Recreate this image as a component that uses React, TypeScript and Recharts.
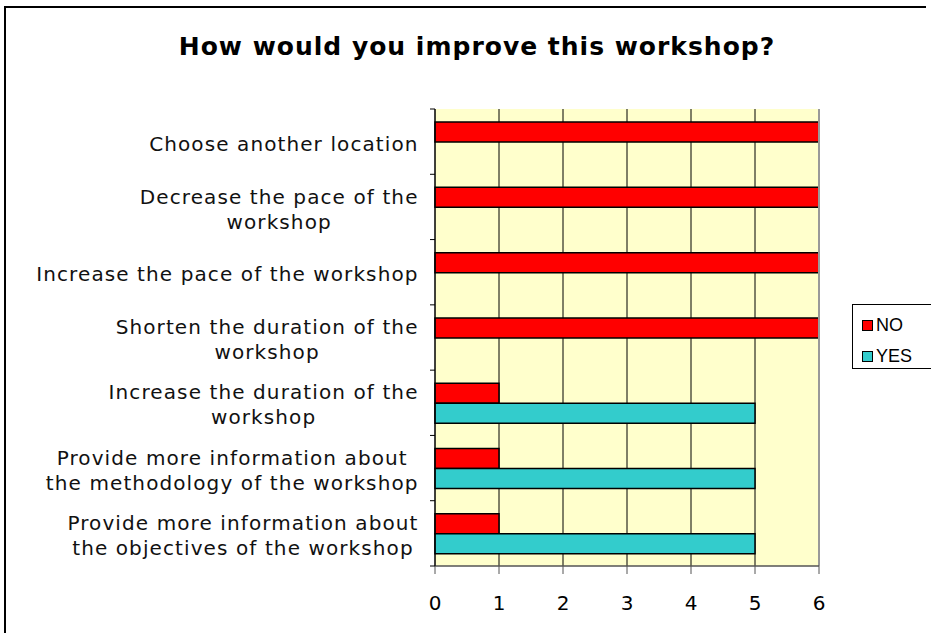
import React from 'react';
import { BarChart, Bar, XAxis, YAxis, CartesianGrid, ReferenceLine } from 'recharts';

const categories = [
  'Choose another location',
  'Decrease the pace of the\nworkshop',
  'Increase the pace of the workshop',
  'Shorten the duration of the\nworkshop',
  'Increase the duration of the\nworkshop',
  'Provide more information about\nthe methodology of the workshop',
  'Provide more information about\nthe objectives of the workshop',
];
const noValues = [6, 6, 6, 6, 1, 1, 1];
const yesValues = [0, 0, 0, 0, 5, 5, 5];
const xTicks = [0, 1, 2, 3, 4, 5, 6];

const series = [
  { key: 'no', name: 'NO', color: '#FF0000' },
  { key: 'yes', name: 'YES', color: '#33CCCC' },
];

const data = categories.map((label, i) => ({ label, no: noValues[i], yes: yesValues[i] }));

const W = 931;
const H = 633;
const plotTop = 109;
const plotBottom = 566;
const plotLeft = 435;
const plotRight = 819;
const band = (plotBottom - plotTop) / categories.length;

const labelFont = "20px 'DejaVu Sans'";
const labelSpacing = 1.1;
let ctx: CanvasRenderingContext2D | null = null;
const measure = (s: string) => {
  if (!ctx) ctx = document.createElement('canvas').getContext('2d');
  if (!ctx) return s.length * 12;
  ctx.font = labelFont;
  return ctx.measureText(s).width + (s.length - 1) * labelSpacing;
};

const CatTick = (props: any) => {
  const { y, payload, index } = props;
  const lines: string[] = String(payload.value).split('\n');
  const right = plotLeft - 17;
  const blockW = Math.max(...lines.map(measure));
  const cx = right - blockW / 2;
  const lh = 25;
  const y0 = y + 2 - ((lines.length - 1) * lh) / 2;
  return (
    <g>
      <line x1={plotLeft - 5} x2={plotLeft} y1={y - band / 2} y2={y - band / 2} stroke="#000" />
      {index === categories.length - 1 && (
        <line x1={plotLeft - 5} x2={plotLeft} y1={y + band / 2} y2={y + band / 2} stroke="#000" />
      )}
      <text textAnchor="middle" fill="#111" style={{ font: labelFont, letterSpacing: labelSpacing }}>
        {lines.map((ln, i) => (
          <tspan key={i} x={cx} y={y0 + i * lh} dy="0.36em">
            {ln}
          </tspan>
        ))}
      </text>
    </g>
  );
};

const App = () => {
  return (
    <div style={{ position: 'fixed', left: 0, top: 0, width: W, height: H, overflow: 'hidden', background: '#fff' }}>
      {/* outer chart frame, only left and top edges fall inside the picture */}
      <div style={{ position: 'absolute', left: 4, top: 6, width: 922, height: 2, background: '#000' }} />
      <div style={{ position: 'absolute', left: 4, top: 6, width: 2, height: 700, background: '#000' }} />
      <div
        style={{
          position: 'absolute', left: 0, width: 954, top: 32, textAlign: 'center',
          font: "bold 25px 'DejaVu Sans'", letterSpacing: 1, color: '#000',
        }}
      >
        How would you improve this workshop?
      </div>
      <div style={{ position: 'absolute', left: 0, top: 0 }}>
        <BarChart
          width={W}
          height={H}
          data={data}
          layout="vertical"
          margin={{ top: plotTop, bottom: 0, left: 0, right: W - plotRight }}
          barCategoryGap="20%"
          barGap={0}
        >
          <CartesianGrid horizontal={false} stroke="#000" fill="#FFFFCC" fillOpacity={1} />
          <XAxis
            type="number"
            domain={[0, 6]}
            ticks={xTicks}
            interval={0}
            axisLine={{ stroke: '#555', strokeWidth: 1.5 }}
            tickLine={{ stroke: '#555' }}
            tickSize={8}
            tickMargin={22}
            height={H - plotBottom}
            tick={{ fill: '#000', fontSize: 20, fontFamily: 'DejaVu Sans' }}
          />
          <XAxis
            xAxisId="top"
            orientation="top"
            type="number"
            domain={[0, 6]}
            ticks={xTicks}
            tick={false}
            tickLine={false}
            height={0}
            axisLine={{ stroke: '#999', strokeWidth: 1.5 }}
          />
          <YAxis
            type="category"
            dataKey="label"
            width={plotLeft}
            interval={0}
            axisLine={{ stroke: '#000' }}
            tickLine={false}
            tick={<CatTick />}
          />
          <ReferenceLine x={6} stroke="#999" strokeWidth={2} />
          {series.map((s) => (
            <Bar
              key={s.key}
              dataKey={s.key}
              name={s.name}
              fill={s.color}
              stroke="#000"
              strokeWidth={1.5}
              isAnimationActive={false}
            />
          ))}
        </BarChart>
      </div>
      <div
        style={{
          position: 'absolute', left: 852, top: 304, width: 100, height: 65,
          border: '1px solid #000', boxSizing: 'border-box', background: '#fff',
          font: "18px 'Liberation Sans'", color: '#000',
        }}
      >
        {series.map((s, i) => (
          <div key={s.key} style={{ position: 'absolute', left: 9, top: 10 + i * 31, display: 'flex', alignItems: 'center' }}>
            <span
              style={{
                display: 'inline-block', width: 11, height: 11, background: s.color,
                border: '1.5px solid #000', boxSizing: 'border-box', marginRight: 3,
              }}
            />
            <span>{s.name}</span>
          </div>
        ))}
      </div>
    </div>
  );
};

export default App;
